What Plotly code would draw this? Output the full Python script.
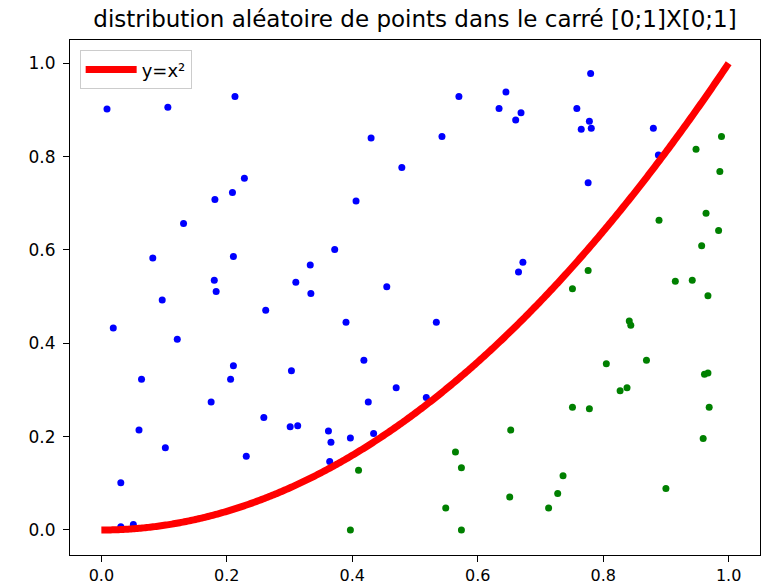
import numpy as np
import plotly.graph_objects as go

# Points above the curve y = x^2 (blue)
blue_x = [0.009, 0.106, 0.213, 0.228, 0.209, 0.181, 0.131, 0.082, 0.2105, 0.180,
          0.310, 0.333, 0.183, 0.334, 0.097, 0.262, 0.019, 0.121, 0.2105, 0.303,
          0.064, 0.206, 0.175, 0.259, 0.301, 0.313, 0.060, 0.102, 0.231, 0.031,
          0.031, 0.051, 0.570, 0.645, 0.634, 0.669, 0.6605, 0.430, 0.543, 0.479,
          0.406, 0.372, 0.672, 0.665, 0.455, 0.390, 0.534, 0.4185, 0.470, 0.4255,
          0.518, 0.362, 0.366, 0.397, 0.434, 0.364, 0.780, 0.758, 0.778, 0.765,
          0.781, 0.880, 0.888, 0.776]
blue_y = [0.902, 0.906, 0.929, 0.754, 0.723, 0.708, 0.657, 0.583, 0.586, 0.535,
          0.531, 0.568, 0.511, 0.507, 0.493, 0.471, 0.433, 0.409, 0.352, 0.341,
          0.323, 0.323, 0.274, 0.241, 0.221, 0.2235, 0.214, 0.176, 0.158, 0.101,
          0.007, 0.012, 0.929, 0.9385, 0.903, 0.894, 0.8785, 0.840, 0.843, 0.777,
          0.705, 0.601, 0.574, 0.553, 0.521, 0.445, 0.445, 0.364, 0.305, 0.274,
          0.284, 0.212, 0.188, 0.197, 0.2065, 0.147, 0.978, 0.903, 0.876, 0.8585,
          0.861, 0.861, 0.8035, 0.744]

# Points below the curve (green)
green_x = [0.410, 0.397, 0.5645, 0.574, 0.6526, 0.651, 0.549, 0.574, 0.713, 0.9886,
           0.948, 0.986, 0.964, 0.889, 0.984, 0.957, 0.776, 0.751, 0.915, 0.942,
           0.967, 0.8416, 0.844, 0.805, 0.869, 0.827, 0.838, 0.9615, 0.967, 0.751,
           0.778, 0.969, 0.9594, 0.736, 0.7275, 0.900]
green_y = [0.128, 0.000, 0.167, 0.1335, 0.214, 0.0707, 0.047, 0.000, 0.047, 0.843,
           0.816, 0.768, 0.6785, 0.6635, 0.642, 0.609, 0.556, 0.517, 0.533, 0.535,
           0.502, 0.448, 0.439, 0.356, 0.364, 0.2985, 0.305, 0.3336, 0.3364, 0.263,
           0.260, 0.263, 0.196, 0.116, 0.078, 0.089]

tick_vals = [0.0, 0.2, 0.4, 0.6, 0.8, 1.0]
tick_text = ["0.0", "0.2", "0.4", "0.6", "0.8", "1.0"]

curve_x = np.linspace(0, 1, 401)
curve_y = curve_x ** 2

fig = go.Figure()
fig.add_trace(go.Scatter(x=blue_x, y=blue_y, mode="markers",
                         marker=dict(color="#0000ff", size=7), showlegend=False))
fig.add_trace(go.Scatter(x=green_x, y=green_y, mode="markers",
                         marker=dict(color="#008000", size=7), showlegend=False))
fig.add_trace(go.Scatter(x=curve_x, y=curve_y, mode="lines", name="y=x²",
                         line=dict(color="#ff0000", width=7, simplify=False)))

axis_common = dict(
    showgrid=False, zeroline=False, showline=True, mirror=True,
    linecolor="#000000", linewidth=1, ticks="outside", ticklen=6,
    tickcolor="#000000", tickwidth=1, automargin=False,
    tickvals=tick_vals, ticktext=tick_text,
)

fig.update_layout(
    width=765, height=587,
    margin=dict(l=70, r=5, t=40, b=32),
    paper_bgcolor="white", plot_bgcolor="white",
    font=dict(family="DejaVu Sans", color="#000000"),
    title=dict(text="distribution aléatoire de points dans le carré [0;1]X[0;1]",
               x=(70 + 760) / 2 / 765, xanchor="center",
               y=1 - 19 / 587, yanchor="middle", yref="container",
               font=dict(family="DejaVu Sans", size=23, color="#000000")),
    xaxis=dict(range=[-0.05, 1.05], ticklabelstandoff=0,
               tickfont=dict(family="DejaVu Sans", size=16, color="#000000"),
               **axis_common),
    yaxis=dict(range=[-0.0536, 1.05], ticklabelstandoff=4,
               tickfont=dict(family="DejaVu Sans", size=17, color="#000000"),
               **axis_common),
    legend=dict(x=0.014, y=0.98, xanchor="left", yanchor="top", itemwidth=51,
                bordercolor="#cccccc", borderwidth=1, bgcolor="rgba(255,255,255,0.8)",
                font=dict(family="DejaVu Sans", size=18, color="#000000")),
)

fig.write_html("out.html")
